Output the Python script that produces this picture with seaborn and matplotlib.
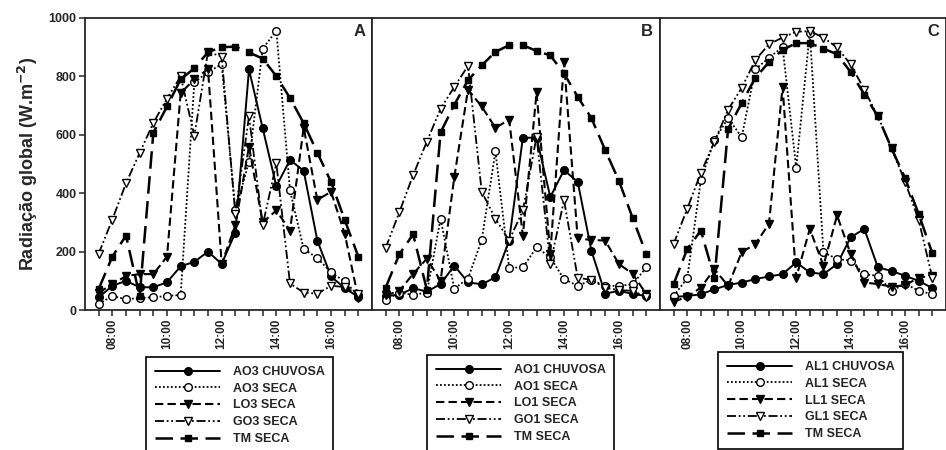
import matplotlib
matplotlib.use("Agg")
import matplotlib.pyplot as plt
import pandas as pd
import seaborn as sns

# Horários de medição (intervalos de 30 min)
horarios = ["07:30", "08:00", "08:30", "09:00", "09:30", "10:00", "10:30", "11:00",
            "11:30", "12:00", "12:30", "13:00", "13:30", "14:00", "14:30", "15:00",
            "15:30", "16:00", "16:30", "17:00"]
rotulos_x = ["08:00", "10:00", "12:00", "14:00", "16:00"]
rotulos_y = [0, 200, 400, 600, 800, 1000]

# Painel A
a_ao3_chuvosa = [43, 83, 100, 78, 78, 95, 150, 165, 200, 158, 265, 824, 623, 424, 514, 477, 238, 115, 75, 45]
a_ao3_seca = [21, 48, 37, 41, 44, 48, 52, 780, 815, 842, 341, 508, 895, 956, 410, 209, 178, 129, 98, 50]
a_lo3_seca = [60, 88, 117, 123, 123, 183, 743, 790, 825, 158, 290, 560, 300, 341, 272, 625, 377, 405, 262, 40]
a_go3_seca = [193, 310, 434, 538, 641, 724, 800, 597, 884, 868, 330, 663, 290, 502, 91, 60, 56, 83, 79, 54]
a_tm_seca = [72, 183, 255, 48, 607, 697, 790, 828, 883, 900, 902, 882, 861, 801, 726, 640, 539, 439, 309, 183]

# Painel B
b_ao1_chuvosa = [48, 52, 75, 63, 89, 152, 95, 88, 112, 238, 590, 590, 387, 479, 439, 203, 56, 66, 55, 48]
b_ao1_seca = [35, 60, 52, 60, 313, 73, 108, 240, 543, 145, 146, 215, 180, 106, 83, 103, 83, 83, 88, 146]
b_lo1_seca = [50, 66, 124, 176, 100, 455, 755, 697, 624, 652, 255, 745, 193, 848, 245, 240, 238, 158, 124, 55]
b_go1_seca = [213, 336, 462, 577, 689, 764, 836, 405, 313, 238, 341, 594, 158, 376, 111, 103, 77, 68, 66, 45]
b_tm_seca = [77, 192, 259, 70, 608, 703, 787, 838, 884, 907, 907, 887, 872, 810, 730, 657, 548, 443, 316, 192]

# Painel C
c_al1_chuvosa = [45, 48, 54, 71, 86, 94, 106, 115, 123, 163, 129, 123, 157, 249, 278, 146, 134, 117, 100, 75]
c_al1_seca = [48, 109, 445, 583, 657, 592, 824, 864, 900, 488, 950, 198, 175, 169, 123, 117, 66, 90, 66, 54]
c_ll1_seca = [29, 45, 77, 140, 83, 198, 226, 295, 764, 111, 278, 152, 324, 192, 94, 89, 80, 85, 111, 117]
c_gl1_seca = [226, 347, 470, 577, 686, 761, 856, 910, 933, 953, 955, 933, 899, 841, 755, 663, 554, 439, 307, 110]
c_tm_seca = [89, 209, 272, 110, 620, 709, 795, 849, 891, 914, 914, 895, 876, 815, 738, 663, 554, 451, 328, 194]

paineis = [
    ("A", [("AO3 CHUVOSA", a_ao3_chuvosa), ("AO3 SECA", a_ao3_seca), ("LO3 SECA", a_lo3_seca),
           ("GO3 SECA", a_go3_seca), ("TM SECA", a_tm_seca)]),
    ("B", [("AO1 CHUVOSA", b_ao1_chuvosa), ("AO1 SECA", b_ao1_seca), ("LO1 SECA", b_lo1_seca),
           ("GO1 SECA", b_go1_seca), ("TM SECA", b_tm_seca)]),
    ("C", [("AL1 CHUVOSA", c_al1_chuvosa), ("AL1 SECA", c_al1_seca), ("LL1 SECA", c_ll1_seca),
           ("GL1 SECA", c_gl1_seca), ("TM SECA", c_tm_seca)]),
]

# Estilo de cada tipo de série (na ordem da legenda)
estilos = [
    dict(marker="o", markerfacecolor="black", markersize=5.5, linestyle="-", linewidth=1.4),
    dict(marker="o", markerfacecolor="white", markersize=5.5, linestyle=(0, (1, 1.2)), linewidth=1.3),
    dict(marker="v", markerfacecolor="black", markersize=6, linestyle=(0, (4, 2)), linewidth=1.5),
    dict(marker="v", markerfacecolor="white", markersize=6,
         linestyle=(0, (5, 1.5, 1, 1.5, 1, 1.5)), linewidth=1.3),
    dict(marker="s", markerfacecolor="black", markersize=5, linestyle=(0, (7, 3)), linewidth=1.8),
]

sns.set_style("ticks")
plt.rcParams["font.family"] = ["Liberation Sans", "DejaVu Sans"]
plt.rcParams["font.weight"] = "bold"
plt.rcParams["axes.linewidth"] = 1.3

fig = plt.figure(figsize=(9.46, 4.5), dpi=100)
base, altura = 0.311, 0.649
posicoes = [(85 / 946, 287 / 946), (372 / 946, 288 / 946), (660 / 946, 286 / 946)]
legendas = [(140 / 946, 1 - 351 / 450), (421 / 946, 1 - 349 / 450), (712 / 946, 1 - 346 / 450)]

idx = list(range(len(horarios)))
pos_rotulos = [horarios.index(r) for r in rotulos_x]

for k, ((letra, series), (x0, w), (lx, ly)) in enumerate(zip(paineis, posicoes, legendas)):
    ax = fig.add_axes([x0, base, w, altura])
    for (nome, valores), est in zip(series, estilos):
        df = pd.DataFrame({"hora": idx, "radiacao": valores})
        sns.lineplot(data=df, x="hora", y="radiacao", ax=ax, color="black",
                     markeredgecolor="black", markeredgewidth=1.0,
                     errorbar=None, label=nome, **est)
    ax.set_xlim(-1, 20)
    ax.set_ylim(0, 1000)
    ax.set_xlabel("")
    ax.set_ylabel("")
    ax.set_xticks(pos_rotulos)
    ax.set_xticklabels(rotulos_x, rotation=90, fontsize=8.5, fontweight="bold")
    ax.set_xticks([i for i in idx if i not in pos_rotulos], minor=True)
    ax.tick_params(axis="x", which="both", direction="out", length=4, width=1.1, pad=2)
    for s in ax.spines.values():
        s.set_visible(True)
        s.set_linewidth(1.3)
    if k == 0:
        ax.set_yticks(rotulos_y)
        ax.set_yticklabels([str(v) for v in rotulos_y], fontsize=9, fontweight="bold")
        ax.tick_params(axis="y", direction="out", length=4, width=1.1, pad=2)
        ax.set_ylabel("Radiação global (W.m$^{\\mathbf{-2}}$)", fontsize=13,
                      fontweight="bold", labelpad=6)
    else:
        ax.tick_params(axis="y", left=False, labelleft=False)
    ax.text(0.955, 0.955, letra, transform=ax.transAxes, ha="center", va="center",
            fontsize=12, fontweight="bold")
    handles, labels = ax.get_legend_handles_labels()
    leg = ax.legend(handles, labels, loc="upper left", bbox_to_anchor=(lx, ly),
                    bbox_transform=fig.transFigure, frameon=True, fancybox=False,
                    edgecolor="black", framealpha=1, handlelength=5.2,
                    handletextpad=1.0, labelspacing=0.38, borderpad=0.7,
                    prop={"weight": "bold", "size": 9})
    leg.get_frame().set_linewidth(1.2)

fig.savefig("out.png", dpi=100)
